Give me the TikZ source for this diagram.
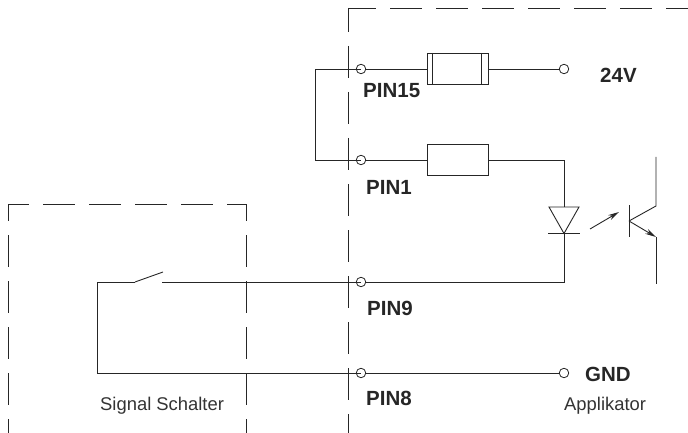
\documentclass[tikz,border=0pt]{standalone}
\usepackage{fontspec}
\setmainfont{Liberation Sans}
\usetikzlibrary{arrows.meta}
\definecolor{wirecol}{gray}{0.15}
\tikzset{
    wire/.style={draw=wirecol, line width=0.9pt},
    frame/.style={draw=wirecol, line width=0.9pt, dash pattern=on 32pt off 14pt},
    pin/.style={circle, draw=wirecol, line width=0.8pt, minimum size=9.5pt, inner sep=0pt},
    part/.style={rectangle, draw=wirecol, line width=1pt, minimum width=61pt, minimum height=31pt, inner sep=0pt},
    pinlabel/.style={anchor=west, inner sep=0pt, text=black!85, font=\fontsize{20.5}{22}\selectfont\bfseries},
    caption/.style={anchor=west, inner sep=0pt, text=black!80, font=\fontsize{18.4}{20}\selectfont},
    lightarrow/.style={-{Stealth[length=11pt,width=5.5pt]}}
}
\begin{document}
\begin{tikzpicture}[x=1pt,y=-1pt]
        \useasboundingbox (0,0) rectangle (688,433);

        % Dashed frames
        \draw[frame, dash phase=8pt] (348,8) -- (348,433);
        \draw[frame, dash phase=4pt] (348,8) -- (688,8);
        \draw[frame, dash phase=11pt] (8,204) -- (246,204);
        \foreach \x in {8,246}
            \draw[frame, dash phase=15pt] (\x,204) -- (\x,433);

        % Pins and open ends
        \node[pin] (pinfifteen) at (361,69) {};
        \node[pin] (pinone) at (361,160) {};
        \node[pin] (pinnine) at (361,282) {};
        \node[pin] (pineight) at (361,373) {};
        \node[pin] (vcc) at (564,69) {};
        \node[pin] (gnd) at (564,373) {};

        % Fuse and resistor
        \node[part] (fuse) at (457.5,69) {};
        \node[part] (resistor) at (457.5,160) {};
        \foreach \x in {6,55}
            \draw[wire] ([xshift=\x pt]fuse.north west) -- ([xshift=\x pt]fuse.south west);

        % Helper points
        \coordinate (bridgetop) at (315,69);
        \coordinate (bridgebot) at (315,160);
        \coordinate (diodeleft) at (549,207);
        \coordinate (dioderight) at (579,207);
        \coordinate (diodetop) at (564,207);
        \coordinate (diodetip) at (564,233.5);
        \coordinate (barleft) at (548,233.5);
        \coordinate (barright) at (580,233.5);
        \coordinate (corner) at (564,282);
        \coordinate (contact) at (162,282);
        \coordinate (bladeroot) at (135,282);
        \coordinate (bladetip) at (163,272);
        \coordinate (loopA) at (97,282);
        \coordinate (loopB) at (97,373);

        % Wires
        \draw[wire] (pinfifteen.east) -- (fuse.west);
        \draw[wire] (fuse.east) -- (vcc.west);
        \draw[wire] (pinfifteen.center) -- (bridgetop) -- (bridgebot) -- (pinone.center);
        \draw[wire] (pinone.east) -- (resistor.west);
        \draw[wire] (resistor.east) -| (diodetop);
        \draw[wire] (diodetip) -- (corner) -- (pinnine.east);
        \draw[wire] (pinnine.center) -- (contact);
        \draw[wire] (bladeroot) -- (bladetip);
        \draw[wire] (bladeroot) -- (loopA) -- (loopB) -- (pineight.center);
        \draw[wire] (pineight.east) -- (gnd.west);

        % Diode
        \draw[wire] (diodeleft) -- (dioderight) -- (diodetip) -- cycle;
        \draw[wire] (barleft) -- (barright);

        % Light and transistor
        \coordinate (lightA) at (590,229);
        \coordinate (lightB) at (619,212);
        \coordinate (baseA) at (629,205);
        \coordinate (baseB) at (629,237);
        \coordinate (basemid) at (629,221);
        \coordinate (colA) at (656,206);
        \coordinate (colB) at (656,157);
        \coordinate (emA) at (656,237);
        \coordinate (emB) at (656,284);
        \draw[wire, lightarrow] (lightA) -- (lightB);
        \draw[wire] (baseA) -- (baseB);
        \draw[wire] (basemid) -- (colA) -- (colB);
        \draw[wire, lightarrow] (basemid) -- (emA);
        \draw[wire] (emA) -- (emB);

        % Labels
        \node[pinlabel] (lblfifteen) at (363,91) {PIN15};
        \node[pinlabel] (lblone) at (366,187) {PIN1};
        \node[pinlabel] (lblnine) at (367,308) {PIN9};
        \node[pinlabel] (lbleight) at (366,398) {PIN8};
        \node[pinlabel] (lblvcc) at (600,75) {24V};
        \node[pinlabel] (lblgnd) at (585,374) {GND};
        \node[caption] (lblappl) at (564,406) {Applikator};
        \node[caption] (lblsignal) at (100,406) {Signal Schalter};
\end{tikzpicture}
\end{document}
